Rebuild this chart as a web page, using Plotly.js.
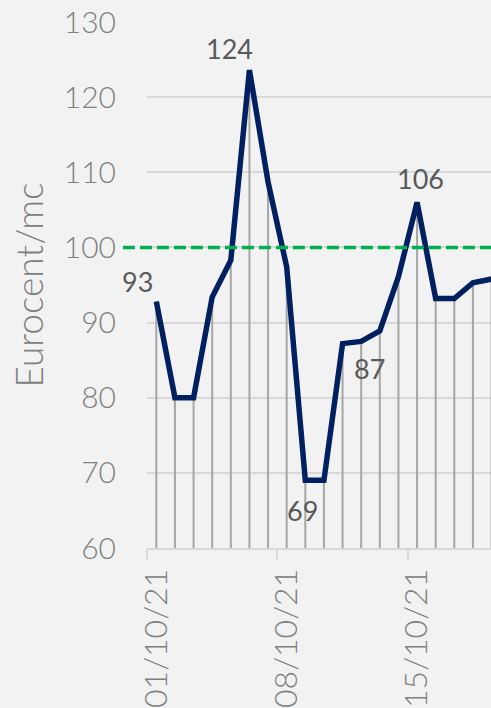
<!DOCTYPE html>
<html>
<head>
<meta charset="utf-8">
<script src="https://cdn.plot.ly/plotly-3.0.1.min.js"></script>
<style>
html,body{margin:0;padding:0;background:#f2f2f2;overflow:hidden;}
#chart{width:491px;height:708px;}
</style>
</head>
<body>
<div id="chart"></div>
<script>
// Daily dates (October 2021)
const dates = ["01/10/21","02/10/21","03/10/21","04/10/21","05/10/21","06/10/21","07/10/21",
               "08/10/21","09/10/21","10/10/21","11/10/21","12/10/21","13/10/21","14/10/21",
               "15/10/21","16/10/21","17/10/21","18/10/21","19/10/21"];
// Price, Eurocent/mc
const prices = [92.8, 80, 80, 93.4, 98.3, 123.6, 108.7, 97.4, 69, 69, 87.2, 87.5, 88.9, 96.1, 106, 93.2, 93.2, 95.3, 95.8];
// Reference level
const reference = 100;
// Axis ticks
const yTicks = [60, 70, 80, 90, 100, 110, 120, 130];
const xLabelIdx = [0, 7, 14];
const xLabels = ["01/10/21", "08/10/21", "15/10/21"];
// Labelled points: index, xshift, yshift
const labelIdx = [0, 5, 8, 10, 14];
const labelShift = [[-19, 20], [-20, 22], [-3, -30], [27, -25], [3, 24]];

const idx = dates.map((d, i) => i);
const yMin = 60, yMax = 130;

const dropTrace = {
  x: idx, y: prices, type: 'scatter', mode: 'markers',
  marker: {size: 1, opacity: 0},
  error_y: {type: 'data', symmetric: false, array: prices.map(() => 0),
            arrayminus: prices.map(v => v - yMin), color: '#a6a6a6', thickness: 2, width: 0},
  hoverinfo: 'skip', showlegend: false
};
const lineTrace = {
  x: idx, y: prices, type: 'scatter', mode: 'lines',
  line: {color: '#002060', width: 5.5},
  hoverinfo: 'skip', showlegend: false
};

const annotations = labelIdx.map((i, k) => ({
  x: i, y: prices[i], xref: 'x', yref: 'y',
  text: String(Math.round(prices[i])), showarrow: false,
  xshift: labelShift[k][0], yshift: labelShift[k][1],
  font: {family: 'Lato, sans-serif', size: 27, color: '#595959'}
}));

const layout = {
  width: 491, height: 708,
  margin: {l: 147, r: 0, t: 22, b: 160, pad: 0},
  paper_bgcolor: '#f2f2f2', plot_bgcolor: '#f2f2f2',
  showlegend: false,
  xaxis: {
    range: [-0.5, 17.97], showgrid: false, zeroline: false,
    showline: true, linecolor: '#d9d9d9', linewidth: 2,
    tickmode: 'array', tickvals: xLabelIdx, ticktext: xLabels,
    ticks: '', tickangle: -90, ticklabelstandoff: 6,
    tickfont: {family: 'Lato, sans-serif', size: 32, color: '#808080', weight: 300},
    minor: {tickmode: 'array', tickvals: [-0.5, 6.5, 13.5], ticks: 'outside',
            ticklen: 10, tickwidth: 2, tickcolor: '#d9d9d9', showgrid: false}
  },
  yaxis: {
    range: [yMin, yMax], tickmode: 'array', tickvals: yTicks,
    showgrid: true, gridcolor: '#d9d9d9', gridwidth: 2, zeroline: false,
    showline: false, ticks: '', ticklabelstandoff: 30,
    tickfont: {family: 'Lato, sans-serif', size: 30, color: '#808080', weight: 300},
    title: {text: 'Eurocent/mc', standoff: 8,
            font: {family: 'Lato, sans-serif', size: 37, color: '#808080', weight: 300}}
  },
  shapes: [{
    type: 'line', xref: 'paper', yref: 'y', x0: -0.07, x1: 1, y0: reference, y1: reference,
    line: {color: '#00b050', width: 3.5, dash: '12px,5px'}
  }],
  annotations: annotations
};

Plotly.newPlot('chart', [dropTrace, lineTrace], layout, {staticPlot: true, displayModeBar: false});
</script>
</body>
</html>
